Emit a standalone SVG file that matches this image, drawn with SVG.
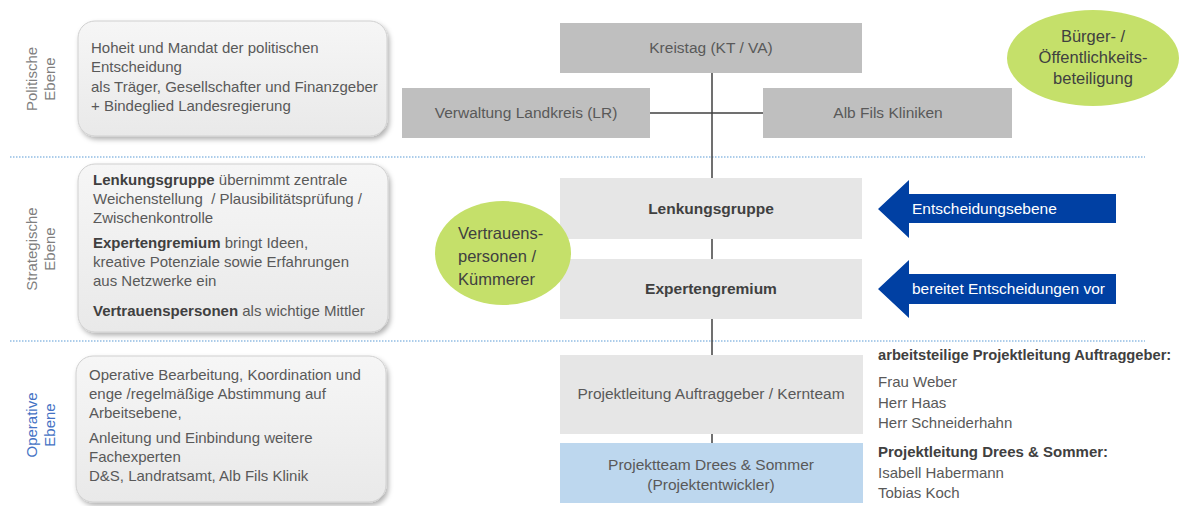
<svg xmlns="http://www.w3.org/2000/svg" width="1179" height="506" viewBox="0 0 1179 506">
<style>
text{font-family:"Liberation Sans",Arial,sans-serif;font-size:15px;fill:#595959}
.b{font-weight:bold;fill:#404040}
.lvl{font-size:15px;fill:#7f7f7f;text-anchor:middle}
.c{text-anchor:middle}
.m{font-size:15.5px}
.w{fill:#ffffff;font-size:15.5px}
.g{fill:#404040;font-size:16.5px}
.dark{fill:#bfbfbf}
.light{fill:#e6e6e6}
.sep{stroke:#5b9bd5;stroke-width:1.2;stroke-dasharray:1.5 1.5}
.conn{stroke:#404040;stroke-width:1.5;fill:none}
.note{fill:url(#lg);stroke:#d0d0d0;stroke-width:1;filter:url(#sh)}
</style>
<defs>
<linearGradient id="lg" x1="0" y1="0" x2="0" y2="1"><stop offset="0" stop-color="#f6f6f6"/><stop offset="1" stop-color="#e9e9e9"/></linearGradient>
<filter id="sh" x="-10%" y="-10%" width="125%" height="130%"><feDropShadow dx="2" dy="3" stdDeviation="2.5" flood-color="#000" flood-opacity="0.3"/></filter>
</defs>
<rect width="1179" height="506" fill="#ffffff"/>
<g id="separators">
<line class="sep" x1="10" y1="157" x2="1145" y2="157"/>
<line class="sep" x1="10" y1="341" x2="1145" y2="341"/>
</g>
<g id="levels">
<text class="lvl" transform="translate(37 79) rotate(-90)">Politische</text>
<text class="lvl" transform="translate(55 79) rotate(-90)">Ebene</text>
<text class="lvl" transform="translate(37 249) rotate(-90)">Strategische</text>
<text class="lvl" transform="translate(55 249) rotate(-90)">Ebene</text>
<text class="lvl" style="fill:#4472c4" transform="translate(37 425) rotate(-90)">Operative</text>
<text class="lvl" style="fill:#4472c4" transform="translate(55 425) rotate(-90)">Ebene</text>
</g>
<g id="note-politisch">
<rect class="note" x="78" y="21" width="309" height="115" rx="17"/>
<text x="91" y="53">Hoheit und Mandat der politischen</text>
<text x="91" y="72">Entscheidung</text>
<text x="91" y="92">als Träger, Gesellschafter und Finanzgeber</text>
<text x="91" y="111">+ Bindeglied Landesregierung</text>
</g>
<g id="note-strategisch">
<rect class="note" x="78" y="164" width="310" height="168" rx="17"/>
<text x="93" y="185"><tspan class="b">Lenkungsgruppe</tspan> übernimmt zentrale</text>
<text x="93" y="204" xml:space="preserve">Weichenstellung  / Plausibilitätsprüfung /</text>
<text x="93" y="223">Zwischenkontrolle</text>
<text x="93" y="248"><tspan class="b">Expertengremium</tspan> bringt Ideen,</text>
<text x="93" y="267">kreative Potenziale sowie Erfahrungen</text>
<text x="93" y="286">aus Netzwerke ein</text>
<text x="93" y="316"><tspan class="b">Vertrauenspersonen</tspan> als wichtige Mittler</text>
</g>
<g id="note-operativ">
<rect class="note" x="76" y="356" width="310" height="146" rx="17"/>
<text x="89" y="380">Operative Bearbeitung, Koordination und</text>
<text x="89" y="399">enge /regelmäßige Abstimmung auf</text>
<text x="89" y="418">Arbeitsebene,</text>
<text x="89" y="443">Anleitung und Einbindung weitere</text>
<text x="89" y="462">Fachexperten</text>
<text x="89" y="481">D&amp;S, Landratsamt, Alb Fils Klinik</text>
</g>
<g id="connectors">
<line class="conn" x1="712" y1="73" x2="712" y2="178"/>
<line class="conn" x1="650" y1="113" x2="763" y2="113"/>
<line class="conn" x1="712" y1="239" x2="712" y2="259"/>
<line class="conn" x1="712" y1="319" x2="712" y2="355"/>
<line class="conn" x1="712" y1="434" x2="712" y2="443"/>
</g>
<g id="kreistag">
<rect class="dark" x="560" y="23" width="302" height="50"/>
<text class="c m" x="711" y="53">Kreistag (KT / VA)</text>
</g>
<g id="verwaltung">
<rect class="dark" x="402" y="88" width="248" height="50"/>
<text class="c m" x="526" y="118">Verwaltung Landkreis (LR)</text>
</g>
<g id="kliniken">
<rect class="dark" x="763" y="88" width="249" height="50"/>
<text class="c m" x="888" y="118">Alb Fils Kliniken</text>
</g>
<g id="lenkungsgruppe">
<rect class="light" x="560" y="178" width="302" height="61"/>
<text class="c b m" x="711" y="214">Lenkungsgruppe</text>
</g>
<g id="expertengremium">
<rect class="light" x="560" y="259" width="302" height="60"/>
<text class="c b m" x="711" y="294">Expertengremium</text>
</g>
<g id="projektleitung">
<rect class="light" x="560" y="355" width="303" height="79"/>
<text class="c m" x="711" y="399">Projektleitung Auftraggeber / Kernteam</text>
</g>
<g id="projektteam">
<rect x="560" y="443" width="303" height="60" fill="#bdd7ee"/>
<text class="c m" x="711" y="470">Projektteam Drees &amp; Sommer</text>
<text class="c m" x="711" y="490">(Projektentwickler)</text>
</g>
<g id="vertrauenspersonen">
<ellipse cx="503" cy="253" rx="68" ry="52" fill="#c5e06a"/>
<text class="g" x="458" y="239">Vertrauens-</text>
<text class="g" x="458" y="262">personen /</text>
<text class="g" x="458" y="285">Kümmerer</text>
</g>
<g id="buerger">
<ellipse cx="1093" cy="58" rx="86" ry="48" fill="#c5e06a"/>
<text class="g c" x="1093" y="42">Bürger- /</text>
<text class="g c" x="1093" y="63">Öffentlichkeits-</text>
<text class="g c" x="1093" y="84">beteiligung</text>
</g>
<g id="arrow-entscheidung">
<polygon points="878,209 909,180 909,194 1116,194 1116,223 909,223 909,238" fill="#0040a3"/>
<text class="w" x="912" y="214">Entscheidungsebene</text>
</g>
<g id="arrow-bereitet">
<polygon points="878,289 909,260 909,274 1116,274 1116,304 909,304 909,318" fill="#0040a3"/>
<text class="w" x="912" y="294">bereitet Entscheidungen vor</text>
</g>
<g id="team-text">
<text class="b" x="878" y="360" style="font-size:14.7px">arbeitsteilige Projektleitung Auftraggeber:</text>
<text x="878" y="387">Frau Weber</text>
<text x="878" y="408">Herr Haas</text>
<text x="878" y="428">Herr Schneiderhahn</text>
<text class="b" x="878" y="457">Projektleitung Drees &amp; Sommer:</text>
<text x="878" y="478">Isabell Habermann</text>
<text x="878" y="498">Tobias Koch</text>
</g>
</svg>
